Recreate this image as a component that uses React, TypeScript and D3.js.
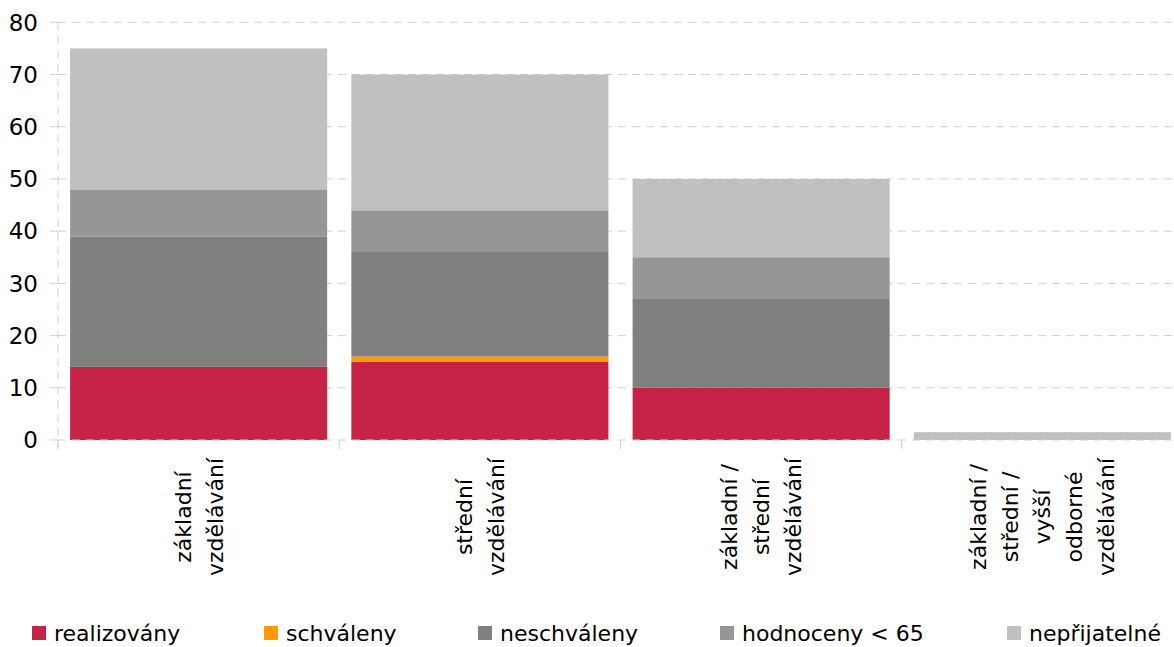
import React from "react";
import * as d3 from "d3";

const categories = ["c1", "c2", "c3", "c4"];
const categoryLabels: string[][] = [
  ["základní", "vzdělávání"],
  ["střední", "vzdělávání"],
  ["základní /", "střední", "vzdělávání"],
  ["základní /", "střední /", "vyšší", "odborné", "vzdělávání"],
];
const seriesNames = ["realizovány", "schváleny", "neschváleny", "hodnoceny < 65", "nepřijatelné"];
const seriesColors = ["#C72346", "#FF9900", "#808080", "#969696", "#C0C0C0"];
const realizovany = [14, 15, 10, 0];
const schvaleny = [0, 1, 0, 0];
const neschvaleny = [25, 20, 17, 0];
const hodnoceny = [9, 8, 8, 0];
const neprijatelne = [27, 26, 15, 1.5];
const yTicks = [0, 10, 20, 30, 40, 50, 60, 70, 80];

const W = 1174;
const H = 647;
const FONT = "'DejaVu Sans', Verdana, sans-serif";

export default function App() {
  const series = [realizovany, schvaleny, neschvaleny, hodnoceny, neprijatelne];
  const rows = categories.map((c, i) => {
    const r: any = { cat: c };
    series.forEach((s, j) => (r["s" + j] = s[i]));
    return r;
  });
  const keys = series.map((_, j) => "s" + j);
  const stacked = d3.stack<any>().keys(keys)(rows);

  const x = d3
    .scaleBand<string>()
    .domain(categories)
    .range([58, 1183])
    .paddingInner(0.086)
    .paddingOuter(0.043);
  const y = d3.scaleLinear().domain([0, 80]).range([440, 22.3]);

  const plotLeft = 58;
  const plotRight = 1183;
  const grid = "#CFCFCF";
  const legendX = [32, 264, 478, 720, 1007];
  const lineSpacing = 32;

  const boundaries = categories.map((c) => (x(c) as number) - (x.step() * x.paddingInner()) / 2);
  boundaries.push(plotRight);

  return (
    <svg
      width={W}
      height={H}
      style={{ position: "absolute", left: 0, top: 0, display: "block", background: "#fff" }}
      fontFamily={FONT}
    >
      {/* gridlines */}
      {yTicks.filter((t) => t !== 0).map((t) => (
        <line
          key={"g" + t}
          x1={plotLeft}
          x2={plotRight}
          y1={y(t)}
          y2={y(t)}
          stroke={grid}
          strokeWidth={1}
          strokeDasharray="8,6"
        />
      ))}
      {/* bars */}
      {stacked.map((layer, j) => (
        <g key={"l" + j} fill={seriesColors[j]}>
          {layer.map((d, i) => {
            const h = y(d[0]) - y(d[1]);
            if (h <= 0) return null;
            return (
              <rect
                key={i}
                x={x(categories[i])}
                y={y(d[1])}
                width={x.bandwidth()}
                height={h}
              />
            );
          })}
        </g>
      ))}
      {/* zero line */}
      <line
        x1={plotLeft}
        x2={plotRight}
        y1={y(0)}
        y2={y(0)}
        stroke={grid}
        strokeWidth={1}
        strokeDasharray="8,6"
      />
      {/* y axis line */}
      <line
        x1={plotLeft}
        x2={plotLeft}
        y1={y(80)}
        y2={y(0) + 8}
        stroke={grid}
        strokeWidth={1}
        strokeDasharray="8,6"
      />
      {/* y ticks */}
      {yTicks.map((t) => (
        <g key={"t" + t}>
          <line x1={plotLeft - 8} x2={plotLeft} y1={y(t)} y2={y(t)} stroke={grid} strokeWidth={1} />
          <text
            x={38}
            y={y(t)}
            dy="0.36em"
            textAnchor="end"
            fontSize={23}
            fill="#000"
          >
            {t}
          </text>
        </g>
      ))}
      {/* category ticks */}
      {boundaries.map((b, i) => (
        <line key={"ct" + i} x1={b} x2={b} y1={y(0)} y2={y(0) + 9} stroke={grid} strokeWidth={1} />
      ))}
      {/* category labels */}
      {categories.map((c, i) => {
        const cx = (x(c) as number) + x.bandwidth() / 2;
        const lines = categoryLabels[i];
        const n = lines.length;
        return (
          <g key={"cl" + i}>
            {lines.map((ln, k) => {
              const lx = cx + (k - (n - 1) / 2) * lineSpacing;
              return (
                <text
                  key={k}
                  transform={`translate(${lx},517) rotate(-90)`}
                  textAnchor="middle"
                  dy="0.36em"
                  fontSize={22}
                  fill="#000"
                >
                  {ln}
                </text>
              );
            })}
          </g>
        );
      })}
      {/* legend */}
      {seriesNames.map((name, j) => (
        <g key={"lg" + j} transform={`translate(${legendX[j]},0)`}>
          <rect x={0} y={626} width={14} height={14} fill={seriesColors[j]} />
          <text x={22} y={633} dy="0.36em" fontSize={22} fill="#000">
            {name}
          </text>
        </g>
      ))}
    </svg>
  );
}
